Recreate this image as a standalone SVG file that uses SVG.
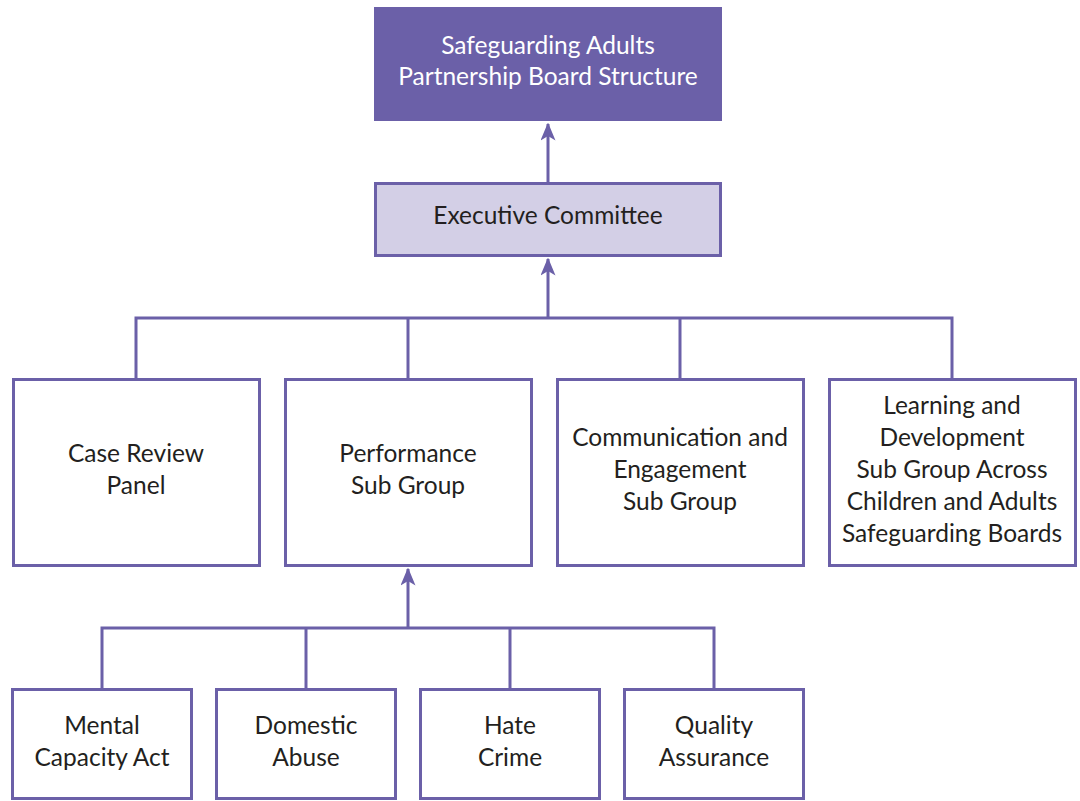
<svg xmlns="http://www.w3.org/2000/svg" width="1080" height="801" viewBox="0 0 1080 801">
  <style>
    .box { fill: #ffffff; stroke: #6b60a8; stroke-width: 3; }
    .exec { fill: #d3cfe6; stroke: #6b60a8; stroke-width: 3; }
    .top { fill: #6b60a8; }
    .conn { fill: none; stroke: #6b60a8; stroke-width: 3; }
    text { font-family: "Lato", "Open Sans", "Liberation Sans", sans-serif; font-size: 24.5px; fill: #231f20; text-anchor: middle; }
    .light { fill: #ffffff; }
  </style>
  <defs>
    <marker id="arrow" viewBox="0 0 12 10" refX="11" refY="5" markerWidth="6" markerHeight="5" markerUnits="strokeWidth" orient="auto">
      <path d="M0,0 L12,5 L0,10 L3,5 Z" fill="#6b60a8"/>
    </marker>
  </defs>

  <g id="connectors">
    <line class="conn" x1="548" y1="182" x2="548" y2="124" marker-end="url(#arrow)"/>
    <line class="conn" x1="548" y1="318" x2="548" y2="259" marker-end="url(#arrow)"/>
    <polyline class="conn" points="136,379 136,318 952,318 952,379"/>
    <line class="conn" x1="408" y1="318" x2="408" y2="379"/>
    <line class="conn" x1="680" y1="318" x2="680" y2="379"/>
    <line class="conn" x1="408" y1="628" x2="408" y2="569" marker-end="url(#arrow)"/>
    <polyline class="conn" points="102,689 102,628 714,628 714,689"/>
    <line class="conn" x1="306" y1="628" x2="306" y2="689"/>
    <line class="conn" x1="510" y1="628" x2="510" y2="689"/>
  </g>

  <g id="board">
    <rect class="top" x="374" y="7" width="348" height="114"/>
    <text class="light" x="548" y="54">Safeguarding Adults</text>
    <text class="light" x="548" y="85">Partnership Board Structure</text>
  </g>

  <g id="executive">
    <rect class="exec" x="375.5" y="183.5" width="345" height="72"/>
    <text x="548" y="224">Executive Committee</text>
  </g>

  <g id="case-review">
    <rect class="box" x="13.5" y="379.5" width="246" height="186"/>
    <text x="136" y="462">Case Review</text>
    <text x="136" y="494">Panel</text>
  </g>

  <g id="performance">
    <rect class="box" x="285.5" y="379.5" width="246" height="186"/>
    <text x="408" y="462">Performance</text>
    <text x="408" y="494">Sub Group</text>
  </g>

  <g id="communication">
    <rect class="box" x="557.5" y="379.5" width="246" height="186"/>
    <text x="680" y="446">Communication and</text>
    <text x="680" y="478">Engagement</text>
    <text x="680" y="510">Sub Group</text>
  </g>

  <g id="learning">
    <rect class="box" x="829.5" y="379.5" width="246" height="186"/>
    <text x="952" y="414">Learning and</text>
    <text x="952" y="446">Development</text>
    <text x="952" y="478">Sub Group Across</text>
    <text x="952" y="510">Children and Adults</text>
    <text x="952" y="542">Safeguarding Boards</text>
  </g>

  <g id="mental-capacity">
    <rect class="box" x="12.5" y="689.5" width="179" height="109"/>
    <text x="102" y="734">Mental</text>
    <text x="102" y="766">Capacity Act</text>
  </g>

  <g id="domestic-abuse">
    <rect class="box" x="216.5" y="689.5" width="179" height="109"/>
    <text x="306" y="734">Domestic</text>
    <text x="306" y="766">Abuse</text>
  </g>

  <g id="hate-crime">
    <rect class="box" x="420.5" y="689.5" width="179" height="109"/>
    <text x="510" y="734">Hate</text>
    <text x="510" y="766">Crime</text>
  </g>

  <g id="quality-assurance">
    <rect class="box" x="624.5" y="689.5" width="179" height="109"/>
    <text x="714" y="734">Quality</text>
    <text x="714" y="766">Assurance</text>
  </g>
</svg>
